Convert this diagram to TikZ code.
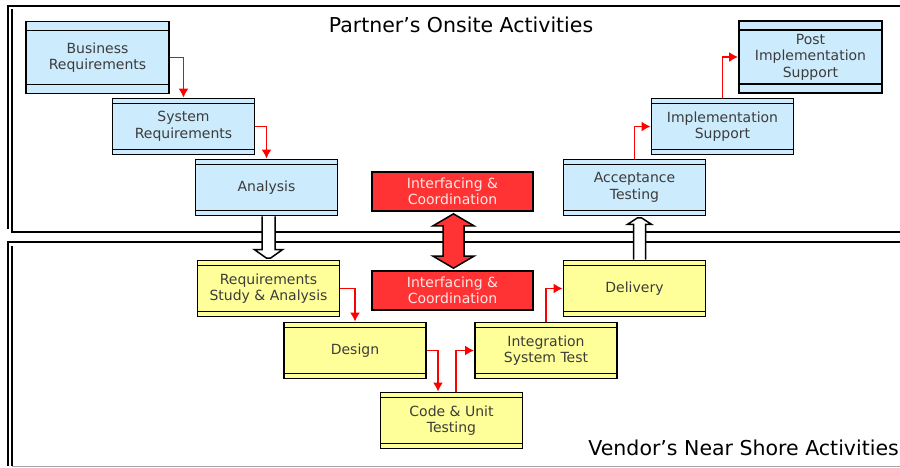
\documentclass[tikz,border=0pt]{standalone}
\usepackage{fontspec}
\setmainfont{DejaVu Sans}
\usetikzlibrary{arrows.meta,calc}

\definecolor{stageblue}{HTML}{CCEBFC}
\definecolor{stageyellow}{HTML}{FFFF99}
\definecolor{liaisonred}{HTML}{FF3333}
\definecolor{labelgray}{HTML}{3C3C3C}
\definecolor{redlabel}{HTML}{FFE6E6}

\tikzset{
  panel/.style={draw=black, line width=1.6pt},
  barred/.style={path picture={
      \draw[line width=1.1pt]
        ([yshift=-#1pt]path picture bounding box.north west) -- ([yshift=-#1pt]path picture bounding box.north east)
        ([yshift=#1pt]path picture bounding box.south west) -- ([yshift=#1pt]path picture bounding box.south east);}},
  stage/.style={draw=black, line width=1.7pt, inner sep=0pt, align=center,
      minimum width=142pt, minimum height=56pt, text=labelgray,
      font=\fontsize{14}{16.5}\selectfont, barred=5},
  tall/.style={minimum width=143pt, minimum height=72pt, barred=9},
  onsite/.style={stage, fill=stageblue},
  nearshore/.style={stage, fill=stageyellow},
  liaison/.style={draw=black, line width=1.7pt, fill=liaisonred, text=redlabel,
      minimum width=161pt, minimum height=39pt, inner sep=0pt, align=center,
      font=\fontsize{14}{16.5}\selectfont},
  flow/.style={draw=red, line width=1.8pt, -{Latex[length=9pt,width=10pt]}},
  hollow/.style={draw=black, line width=1.5pt, fill=white, line join=miter},
  dblarrow/.style={draw=black, line width=1.5pt, fill=liaisonred, line join=miter},
  heading/.style={font=\fontsize{20.5}{24}\selectfont, inner sep=0pt}
}

\begin{document}
\begin{tikzpicture}[x=1pt, y=-1pt]
\useasboundingbox (0,0) rectangle (900,468);

% panel frames
\draw[panel] (8,229) -- (8,6) -- (906,6);
\draw[panel] (12,9) -- (12,232) -- (906,232);
\draw[panel] (8,466) -- (8,242) -- (906,242);
\draw[panel] (12,246) -- (12,466);
\draw[line width=1.2pt, draw=gray!70] (12,466.5) -- (906,466.5);

% headings
\node[heading] (onsitetitle) at (461,25) {Partner’s Onsite Activities};
\node[heading, anchor=east] (nearshoretitle) at (899,448) {Vendor’s Near Shore Activities};

% onsite stages
\node[onsite, tall] (biz)  at (97.5,57.5)  {Business\\Requirements};
\node[onsite]       (sys)  at (183.5,126.5) {System\\Requirements};
\node[onsite]       (ana)  at (266.5,187.5) {Analysis};
\node[onsite]       (acc)  at (634.5,187.5) {Acceptance\\Testing};
\node[onsite]       (impl) at (722.5,126.5) {Implementation\\Support};
\node[onsite, tall] (post) at (810.5,57)    {Post\\Implementation\\Support};

% near shore stages
\node[nearshore] (rsa)  at (268.5,288.5) {Requirements\\Study \& Analysis};
\node[nearshore] (des)  at (355,350.5)   {Design};
\node[nearshore] (code) at (451.5,420.5) {Code \& Unit\\Testing};
\node[nearshore] (ist)  at (546,350.5)   {Integration\\System Test};
\node[nearshore] (del)  at (634.5,288.5) {Delivery};

% interfacing boxes
\node[liaison] (ic1) at (452.5,191.5) {Interfacing \&\\Coordination};
\node[liaison] (ic2) at (452.5,290.5) {Interfacing \&\\Coordination};

% red step connectors
\draw[flow] (biz.east) -| (sys.north);
\draw[flow] (sys.east) -| (ana.north);
\draw[flow] (acc.north) |- (impl.west);
\draw[flow] (impl.north) |- (post.west);
\draw[flow] (rsa.east) -| (des.north);
\draw[flow] (des.east) -| ([xshift=-13.5pt]code.north);
\draw[flow] ([xshift=4.5pt]code.north) |- (ist.west);
\draw[flow] (ist.north) |- (del.west);

% hand-over from onsite analysis to near shore study
\coordinate (dA) at (rsa.north |- ana.south);
\coordinate (dB) at (rsa.north);
\draw[hollow] ($(dA)+(-6.5,0)$) -- ($(dB)+(-6.5,-10)$) -- ($(dB)+(-14,-10)$)
  -- ($(dB)+(-2,-1.5)$) -- ($(dB)+(2,-1.5)$) -- ($(dB)+(14,-10)$)
  -- ($(dB)+(6.5,-10)$) -- ($(dA)+(6.5,0)$);

% hand-back from delivery to acceptance testing
\coordinate (uA) at ([xshift=5pt]del.north);
\coordinate (uB) at (uA |- acc.south);
\draw[hollow] ($(uA)+(-6,0)$) -- ($(uB)+(-6,8)$) -- ($(uB)+(-12,8)$)
  -- ($(uB)+(-2,1.5)$) -- ($(uB)+(2,1.5)$) -- ($(uB)+(12,8)$)
  -- ($(uB)+(6,8)$) -- ($(uA)+(6,0)$);

% two-way link between the interfacing boxes
\coordinate (t) at ($(ic1.south)+(1,2)$);
\coordinate (b) at ($(ic2.north)+(1,-2)$);
\draw[dblarrow] (t) -- ($(t)+(20.5,12)$) -- ($(t)+(10.5,12)$)
  -- ($(b)+(10.5,-12)$) -- ($(b)+(20.5,-12)$) -- (b)
  -- ($(b)+(-20.5,-12)$) -- ($(b)+(-10.5,-12)$)
  -- ($(t)+(-10.5,12)$) -- ($(t)+(-20.5,12)$) -- cycle;
\end{tikzpicture}
\end{document}
